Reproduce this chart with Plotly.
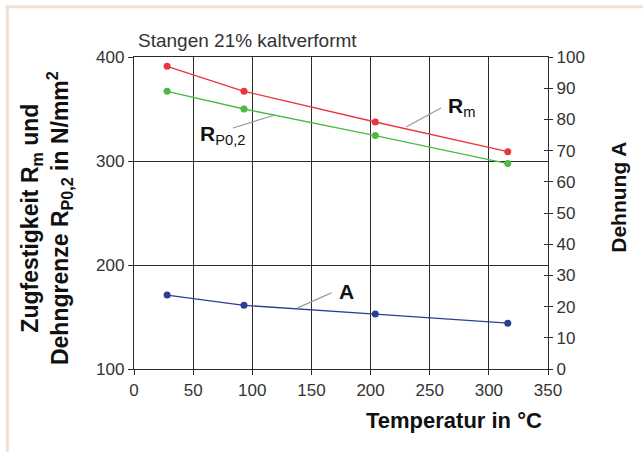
import plotly.graph_objects as go

# Temperature (°C) and properties of cold-worked bars
temperatur = [28, 93, 204, 316]
rm = [391, 367, 337.5, 309]          # tensile strength, N/mm²
rp02 = [367, 350, 324.5, 297.5]      # yield strength, N/mm²
dehnung = [23.7, 20.4, 17.6, 14.7]   # elongation A, %

x_ticks = [0, 50, 100, 150, 200, 250, 300, 350]
left_ticks = [100, 200, 300, 400]
right_ticks = list(range(0, 101, 10))

RED = "#e8363c"
GREEN = "#4cba45"
BLUE = "#2c3f94"
AXIS = "#2a2a2a"
TXT = "#333333"
FONT = "Liberation Sans, Arial, sans-serif"

fig = go.Figure()

fig.add_trace(go.Scatter(x=temperatur, y=rm, mode="lines+markers",
                         line=dict(color=RED, width=1.3),
                         marker=dict(color=RED, size=7), showlegend=False))
fig.add_trace(go.Scatter(x=temperatur, y=rp02, mode="lines+markers",
                         line=dict(color=GREEN, width=1.3),
                         marker=dict(color=GREEN, size=7), showlegend=False))
fig.add_trace(go.Scatter(x=temperatur, y=dehnung, mode="lines+markers",
                         yaxis="y2",
                         line=dict(color=BLUE, width=1.3),
                         marker=dict(color=BLUE, size=7), showlegend=False))
# carrier for the inward half of the right-hand tick marks
fig.add_trace(go.Scatter(x=temperatur, y=dehnung, mode="lines", yaxis="y3",
                         opacity=0, hoverinfo="skip", showlegend=False))

tickfont = dict(family=FONT, size=17, color=TXT)

fig.update_layout(
    width=643, height=452,
    margin=dict(l=134, r=95, t=57, b=83),
    paper_bgcolor="white", plot_bgcolor="white",
    xaxis=dict(range=[0, 350], tickvals=x_ticks, showgrid=True,
               gridcolor=AXIS, gridwidth=1.4, zeroline=False,
               showline=True, linecolor=AXIS, linewidth=1.4, mirror=True,
               ticks="outside", ticklen=5, tickcolor=AXIS, tickwidth=1.2,
               tickfont=tickfont),
    yaxis=dict(range=[100, 400], tickvals=left_ticks, showgrid=True,
               gridcolor=AXIS, gridwidth=1.4, zeroline=False,
               showline=True, linecolor=AXIS, linewidth=1.4, mirror=True,
               ticks="outside", ticklen=5, tickcolor=AXIS, tickwidth=1.2,
               tickfont=tickfont),
    yaxis2=dict(range=[0, 100], tickvals=right_ticks, overlaying="y",
                side="right", showgrid=False, zeroline=False,
                showline=True, linecolor=AXIS, linewidth=1.4,
                ticks="outside", ticklen=4, tickcolor=AXIS, tickwidth=1.2,
                tickfont=tickfont),
    yaxis3=dict(range=[0, 100], tickvals=right_ticks, overlaying="y",
                side="right", showgrid=False, zeroline=False,
                showline=False, showticklabels=False,
                ticks="inside", ticklen=4, tickcolor=AXIS, tickwidth=1.2),
)

label_font = dict(family=FONT, size=21, color="#111111")
bold = dict(color="#111111", weight="bold", family=FONT)

annotations = [
    # title
    dict(text="Stangen 21% kaltverformt", xref="paper", yref="paper",
         x=0.006, y=1.052, xanchor="left", yanchor="middle", showarrow=False,
         font=dict(family=FONT, size=19, color=TXT)),
    # axis titles
    dict(text="Temperatur in °C", xref="paper", yref="paper",
         x=0.772, y=-0.165, xanchor="center", yanchor="middle", showarrow=False,
         font=dict(size=22, **bold)),
    dict(text="Zugfestigkeit R<sub>m</sub> und<br>Dehngrenze R<sub>P0,2</sub> in N/mm<sup>2</sup>",
         xref="paper", yref="paper", x=-0.21, y=0.484, xanchor="center",
         yanchor="middle", textangle=-90, showarrow=False,
         font=dict(size=23, **bold)),
    dict(text="Dehnung A", xref="paper", yref="paper",
         x=1.17, y=0.55, xanchor="center", yanchor="middle", textangle=-90,
         showarrow=False, font=dict(size=21, **bold)),
    # curve labels
    dict(text="<b>R</b><sub>m</sub>", x=264, y=352, xanchor="left",
         yanchor="middle", showarrow=False, font=label_font),
    dict(text="<b>R</b><sub>P0,2</sub>", x=54, y=325, xanchor="left",
         yanchor="middle", showarrow=False, font=label_font),
    dict(text="<b>A</b>", x=172, y=25, yref="y2", xanchor="left",
         yanchor="middle", showarrow=False, font=label_font),
]
fig.update_layout(annotations=annotations)

leader = dict(color="#9a9a9a", width=1.2)
shapes = [
    dict(type="line", x0=230, y0=332.7, x1=259.6, y1=351, line=leader),
    dict(type="line", x0=119, y0=344.2, x1=83.6, y1=331.7, line=leader),
    dict(type="line", x0=138.3, y0=19.6, x1=166.9, y1=24.4, yref="y2", line=leader),
    # frame around the figure
    dict(type="line", xref="paper", yref="paper", x0=-0.31, x1=1.3,
         y0=1.161, y1=1.161, line=dict(color="#eee1d6", width=3)),
    dict(type="line", xref="paper", yref="paper", x0=-0.306, x1=-0.306,
         y0=1.166, y1=-0.3, line=dict(color="#eee1d6", width=3)),
]
fig.update_layout(shapes=shapes)

fig.write_html("out.html")
